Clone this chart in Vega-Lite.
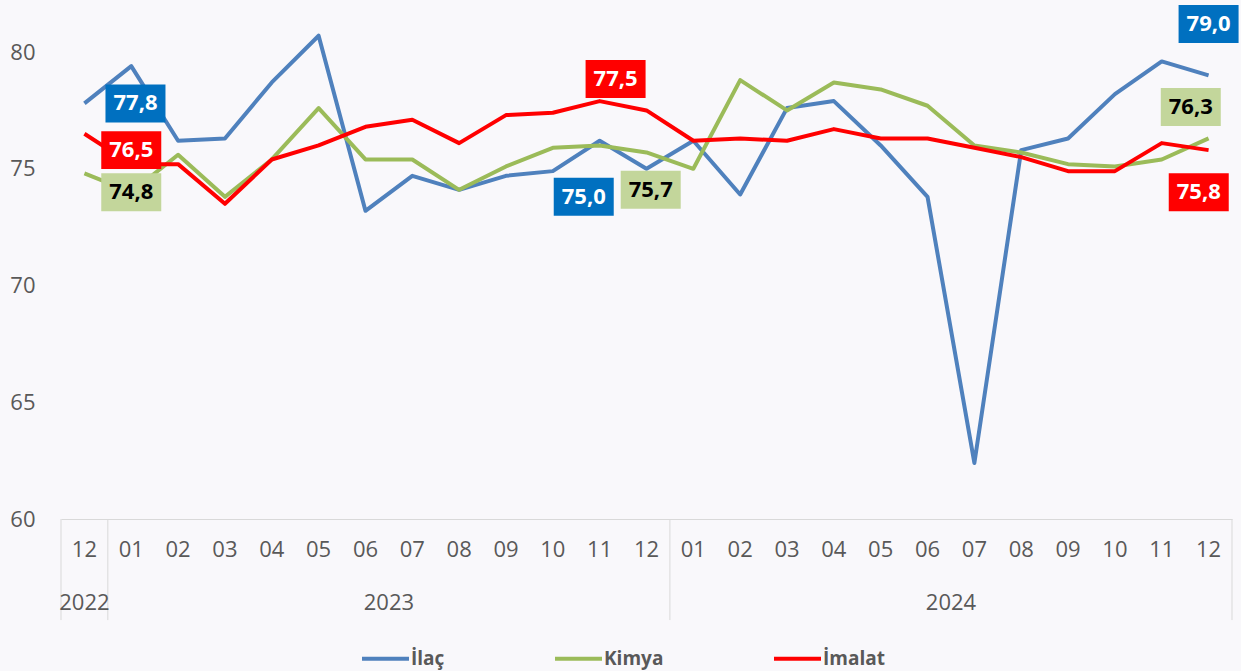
{
  "$schema": "https://vega.github.io/schema/vega-lite/v6.json",
  "width": 1171,
  "height": 519,
  "autosize": "none",
  "padding": {"left": 61, "top": 0, "right": 9, "bottom": 152},
  "background": "#F9F8FB",
  "config": {"font": "Open Sans", "view": {"stroke": null}},
  "datasets": {
    "seriler": [
      {"seri": "İlaç", "ay": "2022-12", "deger": 77.8},
      {"seri": "İlaç", "ay": "2023-01", "deger": 79.4},
      {"seri": "İlaç", "ay": "2023-02", "deger": 76.2},
      {"seri": "İlaç", "ay": "2023-03", "deger": 76.3},
      {"seri": "İlaç", "ay": "2023-04", "deger": 78.7},
      {"seri": "İlaç", "ay": "2023-05", "deger": 80.7},
      {"seri": "İlaç", "ay": "2023-06", "deger": 73.2},
      {"seri": "İlaç", "ay": "2023-07", "deger": 74.7},
      {"seri": "İlaç", "ay": "2023-08", "deger": 74.1},
      {"seri": "İlaç", "ay": "2023-09", "deger": 74.7},
      {"seri": "İlaç", "ay": "2023-10", "deger": 74.9},
      {"seri": "İlaç", "ay": "2023-11", "deger": 76.2},
      {"seri": "İlaç", "ay": "2023-12", "deger": 75.0},
      {"seri": "İlaç", "ay": "2024-01", "deger": 76.2},
      {"seri": "İlaç", "ay": "2024-02", "deger": 73.9},
      {"seri": "İlaç", "ay": "2024-03", "deger": 77.6},
      {"seri": "İlaç", "ay": "2024-04", "deger": 77.9},
      {"seri": "İlaç", "ay": "2024-05", "deger": 76.0},
      {"seri": "İlaç", "ay": "2024-06", "deger": 73.8},
      {"seri": "İlaç", "ay": "2024-07", "deger": 62.4},
      {"seri": "İlaç", "ay": "2024-08", "deger": 75.8},
      {"seri": "İlaç", "ay": "2024-09", "deger": 76.3},
      {"seri": "İlaç", "ay": "2024-10", "deger": 78.2},
      {"seri": "İlaç", "ay": "2024-11", "deger": 79.6},
      {"seri": "İlaç", "ay": "2024-12", "deger": 79.0},
      {"seri": "Kimya", "ay": "2022-12", "deger": 74.8},
      {"seri": "Kimya", "ay": "2023-01", "deger": 74.0},
      {"seri": "Kimya", "ay": "2023-02", "deger": 75.6},
      {"seri": "Kimya", "ay": "2023-03", "deger": 73.8},
      {"seri": "Kimya", "ay": "2023-04", "deger": 75.4},
      {"seri": "Kimya", "ay": "2023-05", "deger": 77.6},
      {"seri": "Kimya", "ay": "2023-06", "deger": 75.4},
      {"seri": "Kimya", "ay": "2023-07", "deger": 75.4},
      {"seri": "Kimya", "ay": "2023-08", "deger": 74.1},
      {"seri": "Kimya", "ay": "2023-09", "deger": 75.1},
      {"seri": "Kimya", "ay": "2023-10", "deger": 75.9},
      {"seri": "Kimya", "ay": "2023-11", "deger": 76.0},
      {"seri": "Kimya", "ay": "2023-12", "deger": 75.7},
      {"seri": "Kimya", "ay": "2024-01", "deger": 75.0},
      {"seri": "Kimya", "ay": "2024-02", "deger": 78.8},
      {"seri": "Kimya", "ay": "2024-03", "deger": 77.5},
      {"seri": "Kimya", "ay": "2024-04", "deger": 78.7},
      {"seri": "Kimya", "ay": "2024-05", "deger": 78.4},
      {"seri": "Kimya", "ay": "2024-06", "deger": 77.7},
      {"seri": "Kimya", "ay": "2024-07", "deger": 76.0},
      {"seri": "Kimya", "ay": "2024-08", "deger": 75.7},
      {"seri": "Kimya", "ay": "2024-09", "deger": 75.2},
      {"seri": "Kimya", "ay": "2024-10", "deger": 75.1},
      {"seri": "Kimya", "ay": "2024-11", "deger": 75.4},
      {"seri": "Kimya", "ay": "2024-12", "deger": 76.3},
      {"seri": "İmalat", "ay": "2022-12", "deger": 76.5},
      {"seri": "İmalat", "ay": "2023-01", "deger": 75.2},
      {"seri": "İmalat", "ay": "2023-02", "deger": 75.2},
      {"seri": "İmalat", "ay": "2023-03", "deger": 73.5},
      {"seri": "İmalat", "ay": "2023-04", "deger": 75.4},
      {"seri": "İmalat", "ay": "2023-05", "deger": 76.0},
      {"seri": "İmalat", "ay": "2023-06", "deger": 76.8},
      {"seri": "İmalat", "ay": "2023-07", "deger": 77.1},
      {"seri": "İmalat", "ay": "2023-08", "deger": 76.1},
      {"seri": "İmalat", "ay": "2023-09", "deger": 77.3},
      {"seri": "İmalat", "ay": "2023-10", "deger": 77.4},
      {"seri": "İmalat", "ay": "2023-11", "deger": 77.9},
      {"seri": "İmalat", "ay": "2023-12", "deger": 77.5},
      {"seri": "İmalat", "ay": "2024-01", "deger": 76.2},
      {"seri": "İmalat", "ay": "2024-02", "deger": 76.3},
      {"seri": "İmalat", "ay": "2024-03", "deger": 76.2},
      {"seri": "İmalat", "ay": "2024-04", "deger": 76.7},
      {"seri": "İmalat", "ay": "2024-05", "deger": 76.3},
      {"seri": "İmalat", "ay": "2024-06", "deger": 76.3},
      {"seri": "İmalat", "ay": "2024-07", "deger": 75.9},
      {"seri": "İmalat", "ay": "2024-08", "deger": 75.5},
      {"seri": "İmalat", "ay": "2024-09", "deger": 74.9},
      {"seri": "İmalat", "ay": "2024-10", "deger": 74.9},
      {"seri": "İmalat", "ay": "2024-11", "deger": 76.1},
      {"seri": "İmalat", "ay": "2024-12", "deger": 75.8}
    ],
    "etiketler": [
      {"seri": "İlaç", "ay": "2023-01", "konum": 77.8, "etiket": "77,8"},
      {"seri": "İmalat", "ay": "2023-01", "konum": 75.8, "etiket": "76,5"},
      {"seri": "Kimya", "ay": "2023-01", "konum": 74.0, "etiket": "74,8"},
      {"seri": "İmalat", "ay": "2023-11", "konum": 78.85, "etiket": "77,5"},
      {"seri": "İlaç", "ay": "2023-11", "konum": 73.8, "etiket": "75,0"},
      {"seri": "Kimya", "ay": "2023-12", "konum": 74.1, "etiket": "75,7"},
      {"seri": "İlaç", "ay": "2024-12", "konum": 81.2, "etiket": "79,0"},
      {"seri": "Kimya", "ay": "2024-12", "konum": 77.65, "etiket": "76,3"},
      {"seri": "İmalat", "ay": "2024-12", "konum": 74.0, "etiket": "75,8"}
    ],
    "ayiricilar": [{"ay": "2022-12"}, {"ay": "2023-01"}, {"ay": "2024-01"}],
    "yillar": [{"ay": "2023-07", "yil": "2023"}, {"ay": "2024-07", "yil": "2024"}]
  },
  "layer": [
    {
      "data": {"name": "seriler"},
      "mark": {"type": "line", "strokeWidth": 4, "strokeJoin": "round"},
      "encoding": {
        "x": {
          "field": "ay", "type": "ordinal", "title": null,
          "scale": {"type": "band", "paddingInner": 0, "paddingOuter": 0},
          "axis": {
            "labelExpr": "slice(datum.value, 5)", "labelAngle": 0, "ticks": false,
            "domainColor": "#D9D9D9", "domainWidth": 1, "labelPadding": 20,
            "labelFontSize": 22, "labelColor": "#595959", "grid": false
          }
        },
        "y": {
          "field": "deger", "type": "quantitative", "title": null,
          "scale": {"domain": [60, 82.23], "nice": false, "zero": false},
          "axis": {
            "values": [60, 65, 70, 75, 80], "domain": false, "ticks": false, "grid": false,
            "labelPadding": 26, "labelFontSize": 22, "labelColor": "#595959"
          }
        },
        "color": {
          "field": "seri", "type": "nominal",
          "scale": {"domain": ["İlaç", "Kimya", "İmalat"], "range": ["#4F81BD", "#9BBB59", "#FF0000"]},
          "legend": {
            "orient": "none", "legendX": 299, "legendY": 633, "direction": "horizontal",
            "title": null, "symbolType": "stroke", "symbolSize": 2209, "symbolStrokeWidth": 4,
            "labelFontSize": 19, "labelFontWeight": "bold", "labelColor": "#595959",
            "columnPadding": 102, "labelOffset": 0
          }
        }
      }
    },
    {
      "data": {"name": "ayiricilar"},
      "mark": {"type": "rule", "color": "#D9D9D9", "strokeWidth": 1},
      "encoding": {
        "x": {"field": "ay", "type": "ordinal", "bandPosition": 0, "title": null},
        "y": {"datum": 60},
        "y2": {"datum": 55.67}
      }
    },
    {
      "data": {"values": [{"ay": "2024-12"}]},
      "mark": {"type": "rule", "color": "#D9D9D9", "strokeWidth": 1},
      "encoding": {
        "x": {"field": "ay", "type": "ordinal", "bandPosition": 1, "title": null},
        "y": {"datum": 60},
        "y2": {"datum": 55.67}
      }
    },
    {
      "data": {"values": [{"ay": "2022-12", "yil": "2022"}]},
      "mark": {"type": "text", "fontSize": 22, "color": "#595959", "baseline": "middle", "dy": 84},
      "encoding": {
        "x": {"field": "ay", "type": "ordinal", "title": null},
        "y": {"datum": 60},
        "text": {"field": "yil"}
      }
    },
    {
      "data": {"name": "yillar"},
      "mark": {"type": "text", "fontSize": 22, "color": "#595959", "baseline": "middle", "dy": 84},
      "encoding": {
        "x": {"field": "ay", "type": "ordinal", "bandPosition": 0, "title": null},
        "y": {"datum": 60},
        "text": {"field": "yil"}
      }
    },
    {
      "data": {"name": "etiketler"},
      "transform": [{"filter": {"field": "etiket", "oneOf": ["76,5", "74,8", "79,0"]}}],
      "encoding": {
        "x": {"field": "ay", "type": "ordinal", "bandPosition": 0.5, "title": null},
        "y": {"field": "konum", "type": "quantitative", "title": null}
      },
      "layer": [
        {
          "mark": {"type": "point", "shape": "M-1,-0.633L1,-0.633L1,0.633L-1,0.633Z", "size": 3600, "filled": true, "opacity": 1, "strokeWidth": 0},
          "encoding": {"fill": {"field": "seri", "type": "nominal", "scale": {"domain": ["İlaç", "Kimya", "İmalat"], "range": ["#0070C0", "#C3D69B", "#FF0000"]}, "legend": null}}
        },
        {
          "mark": {"type": "text", "fontSize": 22, "fontWeight": "bold", "baseline": "middle", "align": "center"},
          "encoding": {"text": {"field": "etiket"}, "color": {"condition": {"test": "datum.seri === 'Kimya'", "value": "#000000"}, "value": "#FFFFFF"}}
        }
      ]
    },
    {
      "data": {"name": "etiketler"},
      "transform": [{"filter": {"field": "etiket", "oneOf": ["77,8", "75,7"]}}],
      "encoding": {
        "x": {"field": "ay", "type": "ordinal", "bandPosition": 0.59, "title": null},
        "y": {"field": "konum", "type": "quantitative", "title": null}
      },
      "layer": [
        {
          "mark": {"type": "point", "shape": "M-1,-0.633L1,-0.633L1,0.633L-1,0.633Z", "size": 3600, "filled": true, "opacity": 1, "strokeWidth": 0},
          "encoding": {"fill": {"field": "seri", "type": "nominal", "scale": {"domain": ["İlaç", "Kimya", "İmalat"], "range": ["#0070C0", "#C3D69B", "#FF0000"]}, "legend": null}}
        },
        {
          "mark": {"type": "text", "fontSize": 22, "fontWeight": "bold", "baseline": "middle", "align": "center"},
          "encoding": {"text": {"field": "etiket"}, "color": {"condition": {"test": "datum.seri === 'Kimya'", "value": "#000000"}, "value": "#FFFFFF"}}
        }
      ]
    },
    {
      "data": {"name": "etiketler"},
      "transform": [{"filter": {"field": "etiket", "equal": "77,5"}}],
      "encoding": {
        "x": {"field": "ay", "type": "ordinal", "bandPosition": 0.84, "title": null},
        "y": {"field": "konum", "type": "quantitative", "title": null}
      },
      "layer": [
        {
          "mark": {"type": "point", "shape": "M-1,-0.633L1,-0.633L1,0.633L-1,0.633Z", "size": 3600, "filled": true, "opacity": 1, "strokeWidth": 0},
          "encoding": {"fill": {"field": "seri", "type": "nominal", "scale": {"domain": ["İlaç", "Kimya", "İmalat"], "range": ["#0070C0", "#C3D69B", "#FF0000"]}, "legend": null}}
        },
        {
          "mark": {"type": "text", "fontSize": 22, "fontWeight": "bold", "baseline": "middle", "align": "center"},
          "encoding": {"text": {"field": "etiket"}, "color": {"condition": {"test": "datum.seri === 'Kimya'", "value": "#000000"}, "value": "#FFFFFF"}}
        }
      ]
    },
    {
      "data": {"name": "etiketler"},
      "transform": [{"filter": {"field": "etiket", "equal": "75,0"}}],
      "encoding": {
        "x": {"field": "ay", "type": "ordinal", "bandPosition": 0.16, "title": null},
        "y": {"field": "konum", "type": "quantitative", "title": null}
      },
      "layer": [
        {
          "mark": {"type": "point", "shape": "M-1,-0.633L1,-0.633L1,0.633L-1,0.633Z", "size": 3600, "filled": true, "opacity": 1, "strokeWidth": 0},
          "encoding": {"fill": {"field": "seri", "type": "nominal", "scale": {"domain": ["İlaç", "Kimya", "İmalat"], "range": ["#0070C0", "#C3D69B", "#FF0000"]}, "legend": null}}
        },
        {
          "mark": {"type": "text", "fontSize": 22, "fontWeight": "bold", "baseline": "middle", "align": "center"},
          "encoding": {"text": {"field": "etiket"}, "color": {"condition": {"test": "datum.seri === 'Kimya'", "value": "#000000"}, "value": "#FFFFFF"}}
        }
      ]
    },
    {
      "data": {"name": "etiketler"},
      "transform": [{"filter": {"field": "etiket", "equal": "76,3"}}],
      "encoding": {
        "x": {"field": "ay", "type": "ordinal", "bandPosition": 0.12, "title": null},
        "y": {"field": "konum", "type": "quantitative", "title": null}
      },
      "layer": [
        {
          "mark": {"type": "point", "shape": "M-1,-0.633L1,-0.633L1,0.633L-1,0.633Z", "size": 3600, "filled": true, "opacity": 1, "strokeWidth": 0},
          "encoding": {"fill": {"field": "seri", "type": "nominal", "scale": {"domain": ["İlaç", "Kimya", "İmalat"], "range": ["#0070C0", "#C3D69B", "#FF0000"]}, "legend": null}}
        },
        {
          "mark": {"type": "text", "fontSize": 22, "fontWeight": "bold", "baseline": "middle", "align": "center"},
          "encoding": {"text": {"field": "etiket"}, "color": {"condition": {"test": "datum.seri === 'Kimya'", "value": "#000000"}, "value": "#FFFFFF"}}
        }
      ]
    },
    {
      "data": {"name": "etiketler"},
      "transform": [{"filter": {"field": "etiket", "equal": "75,8"}}],
      "encoding": {
        "x": {"field": "ay", "type": "ordinal", "bandPosition": 0.29, "title": null},
        "y": {"field": "konum", "type": "quantitative", "title": null}
      },
      "layer": [
        {
          "mark": {"type": "point", "shape": "M-1,-0.633L1,-0.633L1,0.633L-1,0.633Z", "size": 3600, "filled": true, "opacity": 1, "strokeWidth": 0},
          "encoding": {"fill": {"field": "seri", "type": "nominal", "scale": {"domain": ["İlaç", "Kimya", "İmalat"], "range": ["#0070C0", "#C3D69B", "#FF0000"]}, "legend": null}}
        },
        {
          "mark": {"type": "text", "fontSize": 22, "fontWeight": "bold", "baseline": "middle", "align": "center"},
          "encoding": {"text": {"field": "etiket"}, "color": {"condition": {"test": "datum.seri === 'Kimya'", "value": "#000000"}, "value": "#FFFFFF"}}
        }
      ]
    }
  ]
}
